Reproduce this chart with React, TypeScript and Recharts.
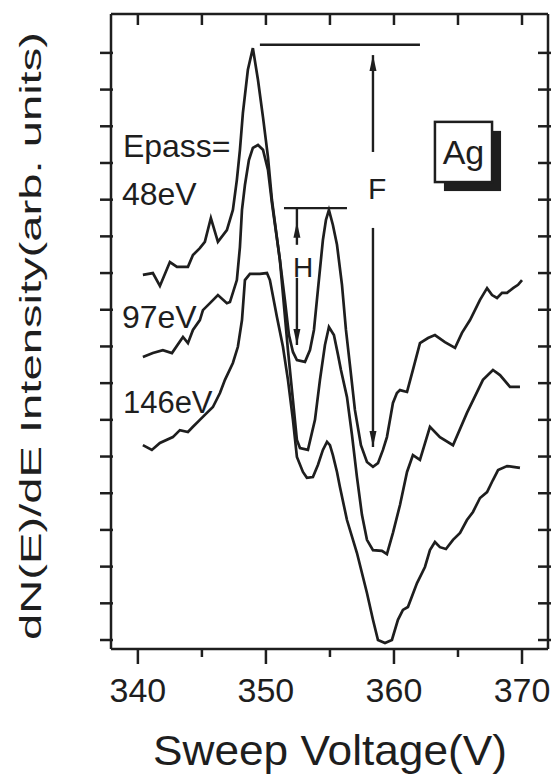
import React from 'react'
import {
  LineChart,
  Line,
  XAxis,
  YAxis,
  ReferenceLine,
  ReferenceDot,
  ReferenceArea,
} from 'recharts'

// sweep voltage (V) and dN/dE (arb.), one pair per curve
const volts48 = [340.39, 341.17, 341.72, 342.5, 343.05, 343.91, 344.3, 344.84, 345.23, 345.7, 346.25, 346.95, 347.42, 347.73, 347.97, 348.2, 348.59, 348.98, 349.38, 349.77, 350.16, 350.47, 350.78, 351.09, 351.48, 351.8, 352.11, 352.42, 353.05, 353.44, 353.75, 354.06, 354.45, 354.69, 354.92, 355.23, 355.55, 355.94, 356.25, 356.56, 356.95, 357.42, 357.89, 358.36, 358.75, 359.14, 359.45, 359.69, 359.92, 360.23, 360.47, 361.02, 361.48, 362.03, 362.66, 363.2, 363.98, 364.77, 365.31, 365.94, 366.72, 367.27, 367.66, 368.05, 368.44, 368.83, 369.3, 369.69, 370.0]
const int48 = [9.95, 10.0, 9.65, 10.3, 10.17, 10.17, 10.49, 10.68, 10.85, 11.5, 10.85, 11.17, 11.72, 12.54, 13.36, 14.36, 15.54, 16.13, 15.26, 14.25, 13.16, 11.99, 11.17, 10.36, 9.27, 8.31, 7.85, 7.63, 7.58, 7.9, 8.45, 9.54, 10.9, 11.45, 11.72, 11.31, 10.77, 9.68, 8.45, 7.5, 6.27, 5.31, 4.85, 4.72, 4.82, 5.18, 5.53, 6.0, 6.46, 6.73, 6.81, 6.76, 7.36, 8.09, 8.23, 8.31, 8.12, 7.96, 8.37, 8.72, 9.27, 9.59, 9.4, 9.32, 9.46, 9.46, 9.59, 9.68, 9.81]

const volts97 = [340.39, 341.17, 341.95, 342.66, 343.52, 343.91, 344.3, 344.84, 345.08, 345.63, 346.25, 346.95, 347.19, 347.73, 347.97, 348.13, 348.36, 348.67, 348.98, 349.38, 349.77, 350.16, 350.47, 351.09, 351.72, 352.11, 352.42, 352.66, 353.28, 353.83, 354.22, 354.61, 354.92, 355.31, 355.63, 355.86, 356.33, 356.72, 357.11, 357.5, 357.89, 358.36, 359.06, 359.45, 359.92, 360.47, 361.02, 361.48, 362.03, 362.81, 363.59, 364.61, 365.7, 366.95, 367.73, 368.28, 369.06, 369.84]
const int97 = [7.71, 7.82, 7.9, 7.82, 8.26, 8.09, 8.45, 8.72, 8.99, 9.18, 9.4, 9.18, 9.21, 9.81, 10.71, 11.72, 12.4, 13.08, 13.41, 13.49, 13.36, 12.81, 11.91, 10.36, 7.9, 6.54, 5.45, 5.23, 5.18, 6.0, 7.09, 8.04, 8.53, 8.31, 7.77, 7.36, 6.62, 5.59, 4.44, 3.41, 2.73, 2.45, 2.43, 2.34, 2.92, 3.68, 4.58, 5.04, 4.91, 5.81, 5.53, 5.31, 6.19, 7.09, 7.36, 7.22, 6.9, 6.9]

const volts146 = [340.39, 341.09, 341.72, 342.73, 343.28, 343.91, 344.3, 344.84, 345.39, 345.86, 346.41, 346.8, 347.42, 347.81, 348.13, 348.36, 348.75, 349.53, 350.08, 350.31, 350.86, 351.33, 351.72, 352.11, 352.42, 352.89, 353.2, 353.67, 354.06, 354.45, 354.77, 355.0, 355.23, 355.55, 355.78, 356.33, 357.11, 357.89, 358.36, 358.75, 359.3, 359.84, 360.31, 360.7, 361.09, 361.8, 362.42, 362.81, 363.2, 363.59, 364.06, 364.61, 365.16, 365.7, 366.17, 366.72, 367.27, 367.73, 368.13, 368.83, 369.3, 369.84]
const int146 = [5.31, 5.18, 5.37, 5.53, 5.72, 5.67, 5.81, 6.0, 6.19, 6.35, 6.73, 7.09, 7.55, 7.99, 8.72, 9.81, 9.98, 9.98, 10.0, 9.81, 8.8, 7.99, 7.09, 6.0, 4.99, 4.58, 4.42, 4.44, 4.77, 5.18, 5.4, 5.31, 5.04, 4.58, 4.17, 3.27, 2.37, 1.28, 0.55, 0.0, -0.08, 0.0, 0.55, 0.82, 0.9, 1.55, 1.99, 2.45, 2.67, 2.53, 2.48, 2.73, 2.92, 3.27, 3.49, 3.87, 4.03, 4.36, 4.63, 4.74, 4.72, 4.69]

const xTicks = [340, 345, 350, 355, 360, 365, 370]
const xLabelTicks = [340, 350, 360, 370]
const yTicks = [0, 1, 2, 3, 4, 5, 6, 7, 8, 9, 10, 11, 12, 13, 14, 15, 16]

// annotation texts: [text, volts, intensity (baseline), size]
const notes: [string, number, number, number][] = [
  ['Epass=', 338.83, 13.16, 32],
  ['48eV', 338.75, 11.86, 32],
  ['97eV', 338.75, 8.5, 32],
  ['146eV', 338.83, 6.19, 31],
  ['F', 357.97, 12.02, 30],
  ['H', 352.11, 9.89, 28],
]

const X_DOMAIN = [337.9, 372.03]
const Y_DOMAIN = [-0.245, 17.06]
const INK = '#1e1e1e'
const FONT = '"Liberation Sans", Arial, Helvetica, sans-serif'
const AXIS = { stroke: INK, strokeWidth: 2.5 }

// layout: chart 552x775, y axis 60 wide, x axis 30 high
const MARGIN = { top: 14, right: 4, bottom: 96, left: 51 }
const PLOT_LEFT = MARGIN.left + 60
const PLOT_W = 552 - MARGIN.right - PLOT_LEFT
const PLOT_H = 775 - MARGIN.top - MARGIN.bottom - 30

const rows = (v: number[], y: number[]) => v.map((x, i) => ({ v: x, y: y[i] }))

// tick marks drawn by hand (tickSize 0 puts x/y on the axis line);
// each one also draws its inward twin on the top / right side of the frame
const BottomTick = ({ x, y, payload }: any) => {
  const major = xLabelTicks.includes(payload.value)
  return (
    <g>
      <line x1={x} x2={x} y1={y} y2={y + (major ? 15 : 8)} {...AXIS} />
      <line x1={x} x2={x} y1={y - PLOT_H} y2={y - PLOT_H + 11} {...AXIS} />
      {major && (
        <text x={x} y={y + 53} textAnchor="middle" fontSize={34} fill={INK} fontFamily={FONT}>
          {payload.value}
        </text>
      )}
    </g>
  )
}
const LeftTick = ({ x, y }: any) => (
  <g>
    <line x1={x - 11} x2={x + 2} y1={y} y2={y} {...AXIS} />
    <line x1={x + PLOT_W - 10} x2={x + PLOT_W + 3} y1={y} y2={y} {...AXIS} />
  </g>
)

const arrowHead = (up: boolean) => (p: any) => {
  const d = up ? 1 : -1
  return (
    <path
      d={`M${p.cx},${p.cy} L${p.cx - 3.5},${p.cy + d * 16} L${p.cx + 3.5},${p.cy + d * 16} Z`}
      fill={INK}
    />
  )
}

const noteShape = (text: string, size: number) => (p: any) => (
  <text x={p.cx} y={p.cy} fontSize={size} fill={INK} fontFamily={FONT}>
    {text}
  </text>
)

const AgBox = (p: any) => (
  <g>
    <rect x={p.x + 9} y={p.y + 9} width={p.width} height={p.height} fill={INK} />
    <rect x={p.x} y={p.y} width={p.width} height={p.height} fill="#fff" stroke={INK} strokeWidth={2.5} />
    <text x={p.x + p.width / 2} y={p.y + p.height / 2 + 12} textAnchor="middle" fontSize={34} fill={INK} fontFamily={FONT}>
      Ag
    </text>
  </g>
)

const seg = (x1: number, y1: number, x2: number, y2: number, key: string) => (
  <ReferenceLine
    key={key}
    segment={[{ x: x1, y: y1 }, { x: x2, y: y2 }]}
    stroke={INK}
    strokeWidth={2.4}
    ifOverflow="visible"
  />
)

export default function App() {
  const curves = [
    { name: '48eV', data: rows(volts48, int48) },
    { name: '97eV', data: rows(volts97, int97) },
    { name: '146eV', data: rows(volts146, int146) },
  ]

  return (
    <div style={{ position: 'absolute', left: 0, top: 0, width: 552, height: 775, background: '#fff' }}>
      <LineChart width={552} height={775} margin={MARGIN}>
        <XAxis
          dataKey="v"
          type="number"
          domain={X_DOMAIN}
          ticks={xTicks}
          interval={0}
          allowDataOverflow
          height={30}
          tickSize={0}
          tickMargin={0}
          tickLine={false}
          tick={<BottomTick />}
          axisLine={AXIS}
          label={{
            content: () => (
              <text x={330} y={765} textAnchor="middle" fontSize={42} fill={INK} fontFamily={FONT} textLength={354} lengthAdjust="spacingAndGlyphs">
                Sweep Voltage(V)
              </text>
            ),
          }}
        />
        <YAxis
          type="number"
          domain={Y_DOMAIN}
          ticks={yTicks}
          interval={0}
          allowDataOverflow
          width={60}
          tickSize={0}
          tickMargin={0}
          tickLine={false}
          tick={<LeftTick />}
          axisLine={AXIS}
          label={{
            content: () => (
              <g>
                {/* top and right sides of the box frame */}
                <line x1={PLOT_LEFT} x2={PLOT_LEFT + PLOT_W} y1={MARGIN.top} y2={MARGIN.top} {...AXIS} />
                <line x1={PLOT_LEFT + PLOT_W} x2={PLOT_LEFT + PLOT_W} y1={MARGIN.top} y2={MARGIN.top + PLOT_H} {...AXIS} />
                <text
                  x={31}
                  y={336}
                  transform="rotate(-90, 31, 336)"
                  textAnchor="middle"
                  dominantBaseline="central"
                  fontSize={29}
                  fill={INK}
                  fontFamily={FONT}
                  textLength={608}
                  lengthAdjust="spacingAndGlyphs"
                >
                  dN(E)/dE Intensity(arb. units)
                </text>
              </g>
            ),
          }}
        />

        {curves.map((c) => (
          <Line
            key={c.name}
            data={c.data}
            dataKey="y"
            type="linear"
            stroke={INK}
            strokeWidth={2.7}
            dot={false}
            isAnimationActive={false}
          />
        ))}

        {/* F: peak-to-dip marker */}
        {seg(349.53, 16.22, 362.03, 16.22, 'fTop')}
        {seg(358.36, 15.94, 358.36, 13.3, 'fUp')}
        {seg(358.36, 11.23, 358.36, 5.26, 'fDown')}
        <ReferenceDot x={358.36} y={15.94} r={0} shape={arrowHead(true)} />
        <ReferenceDot x={358.36} y={5.26} r={0} shape={arrowHead(false)} />

        {/* H: second peak marker */}
        {seg(351.41, 11.77, 356.33, 11.77, 'hTop')}
        {seg(352.42, 11.77, 352.42, 10.77, 'hUp')}
        {seg(352.42, 9.87, 352.42, 8.04, 'hDown')}
        <ReferenceDot x={352.42} y={11.4} r={0} shape={arrowHead(true)} />
        <ReferenceDot x={352.42} y={8.04} r={0} shape={arrowHead(false)} />

        <ReferenceArea x1={363.2} x2={367.66} y1={12.48} y2={14.12} shape={AgBox} />

        {notes.map(([t, x, y, s]) => (
          <ReferenceDot key={t} x={x} y={y} r={0} shape={noteShape(t, s)} />
        ))}
      </LineChart>
    </div>
  )
}
